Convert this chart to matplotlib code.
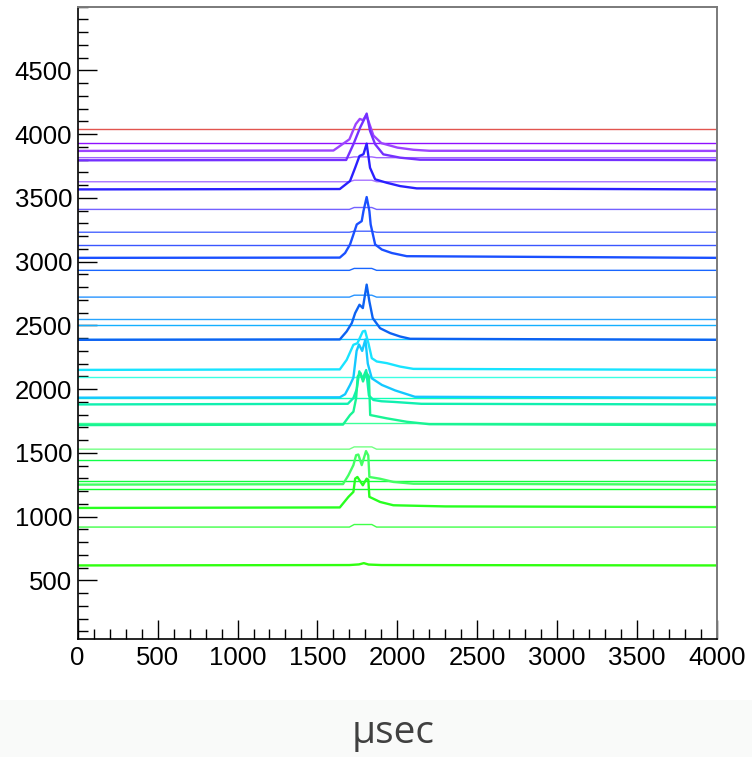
import matplotlib
matplotlib.use("Agg")
import matplotlib.pyplot as plt
from matplotlib.patches import Rectangle
from matplotlib.ticker import MultipleLocator

# ---- data ------------------------------------------------------------------
# flat traces: level, colour, height of the small bump near x~1780
flat_levels = [4039, 3932, 3816, 3627, 3410, 3231, 3127, 2932, 2722, 2549,
               2505, 2395, 2098, 1928, 1731, 1529, 1443, 1278, 1215, 918]
flat_colors = ["#e2554f", "#8f10ff", "#a064ff", "#a874ff", "#7462ff", "#4a66ff",
               "#3a56ff", "#1866ff", "#2894ff", "#28a4ff", "#14b0ff", "#10c8ff",
               "#3cffe4", "#10ffb4", "#3cff98", "#74ff84", "#10ff48", "#10ff3c",
               "#10ff28", "#40ff48"]
flat_bumps = [0, 0, 6, 12, 15, 8, 0, 15, 15, 0, 0, 0, 0, 0, 0, 18, 0, 0, 0, 20]
bump_x = [0, 1700, 1730, 1840, 1870, 4000]

# noisy traces with a pulse (x in usec, y in counts)
tr_a_x = [0, 1600, 1700, 1740, 1765, 1785, 1805, 1820, 1850, 1900, 2000, 2100, 2200, 4000]
tr_a_y = [3869, 3872, 3960, 4080, 4120, 4110, 4150, 4100, 3990, 3930, 3895, 3878, 3870, 3869]
tr_b_x = [0, 1680, 1725, 1767, 1798, 1808, 1829, 1861, 1912, 2017, 2142, 4000]
tr_b_y = [3795, 3798, 3921, 4052, 4131, 4162, 4026, 3921, 3842, 3816, 3800, 3797]
tr_c_x = [0, 1640, 1704, 1736, 1763, 1788, 1808, 1829, 1861, 1934, 2017, 2121, 4000]
tr_c_y = [3567, 3570, 3633, 3737, 3829, 3843, 3926, 3737, 3646, 3619, 3593, 3575, 3567]
tr_d_x = [0, 1640, 1673, 1704, 1725, 1746, 1777, 1788, 1808, 1825, 1833, 1861, 1903, 1965, 2059, 4000]
tr_d_y = [3030, 3032, 3068, 3135, 3213, 3292, 3318, 3397, 3507, 3397, 3292, 3135, 3095, 3068, 3043, 3030]
tr_e_x = [0, 1640, 1683, 1715, 1736, 1763, 1784, 1808, 1825, 1846, 1892, 1955, 2017, 2080, 4000]
tr_e_y = [2387, 2390, 2453, 2518, 2597, 2662, 2636, 2820, 2688, 2557, 2478, 2439, 2413, 2395, 2387]
tr_f_x = [0, 1640, 1683, 1725, 1750, 1784, 1798, 1819, 1840, 1871, 1934, 2017, 2100, 4000]
tr_f_y = [2151, 2155, 2230, 2348, 2360, 2453, 2458, 2360, 2243, 2217, 2204, 2177, 2159, 2151]
tr_g_x = [0, 1640, 1673, 1704, 1725, 1745, 1760, 1780, 1800, 1815, 1840, 1903, 1986, 2110, 4000]
tr_g_y = [1933, 1936, 1960, 2033, 2090, 2300, 2350, 2300, 2390, 2200, 2085, 2033, 1990, 1940, 1933]
tr_h_x = [0, 1690, 1725, 1746, 1762, 1782, 1805, 1822, 1850, 1900, 1976, 2150, 4000]
tr_h_y = [1880, 1885, 1930, 2000, 2140, 2080, 2150, 1950, 1915, 1905, 1900, 1885, 1880]
tr_i_x = [0, 1660, 1704, 1725, 1742, 1752, 1770, 1785, 1805, 1822, 1830, 1934, 2059, 2200, 4000]
tr_i_y = [1718, 1722, 1797, 1823, 1928, 2100, 2125, 2060, 2130, 2100, 1797, 1771, 1744, 1725, 1718]
tr_j_x = [0, 1660, 1694, 1725, 1742, 1756, 1777, 1804, 1818, 1825, 1892, 1975, 2100, 4000]
tr_j_y = [1251, 1255, 1325, 1404, 1482, 1487, 1404, 1514, 1480, 1311, 1297, 1272, 1258, 1251]
tr_k_x = [0, 1640, 1694, 1725, 1736, 1750, 1784, 1808, 1818, 1825, 1892, 1975, 2300, 4000]
tr_k_y = [1068, 1072, 1155, 1194, 1298, 1311, 1246, 1298, 1290, 1155, 1115, 1089, 1080, 1075]
tr_l_x = [0, 1700, 1760, 1790, 1820, 1900, 4000]
tr_l_y = [617, 620, 625, 635, 624, 620, 617]

pulse_traces = [
    (tr_a_x, tr_a_y, "#9c44ff"), (tr_b_x, tr_b_y, "#7430ff"),
    (tr_c_x, tr_c_y, "#2a20ff"), (tr_d_x, tr_d_y, "#1a50ff"),
    (tr_e_x, tr_e_y, "#0c62f2"), (tr_f_x, tr_f_y, "#18e4ff"),
    (tr_g_x, tr_g_y, "#14c8ff"), (tr_h_x, tr_h_y, "#10f0b0"),
    (tr_i_x, tr_i_y, "#18f494"), (tr_j_x, tr_j_y, "#44ff64"),
    (tr_k_x, tr_k_y, "#28ff20"), (tr_l_x, tr_l_y, "#30ff10"),
]

x_ticks = [0, 500, 1000, 1500, 2000, 2500, 3000, 3500, 4000]
y_ticks = [500, 1000, 1500, 2000, 2500, 3000, 3500, 4000, 4500]

# ---- figure -----------------------------------------------------------------
plt.rcParams["font.family"] = ["Liberation Sans", "DejaVu Sans"]
fig = plt.figure(figsize=(7.52, 7.57), dpi=100)
fig.patches.append(Rectangle((0, 0), 1, 0.075, transform=fig.transFigure,
                             facecolor="#f9faf9", edgecolor="none", zorder=0))
ax = fig.add_axes([0.1033, 0.1559, 0.8502, 0.8352])

for lvl, col, bump in zip(flat_levels, flat_colors, flat_bumps):
    by = [lvl, lvl, lvl + bump, lvl + bump, lvl, lvl]
    ax.plot(bump_x, by, color=col, lw=1.0, solid_joinstyle="miter")

for xs, ys, col in pulse_traces:
    ax.plot(xs, ys, color=col, lw=1.7)

ax.set_xlim(0, 4000)
ax.set_ylim(40, 5000)
ax.set_xticks(x_ticks)
ax.set_yticks(y_ticks)
ax.xaxis.set_minor_locator(MultipleLocator(100))
ax.yaxis.set_minor_locator(MultipleLocator(100))
ax.tick_params(which="both", direction="in", top=False, right=False, color="black")
ax.tick_params(which="major", length=13.5, width=1.0)
ax.tick_params(which="minor", length=7, width=1.0)
ax.tick_params(axis="y", labelsize=18.5, pad=4)
ax.tick_params(axis="x", labelsize=18.5, pad=5)

for side in ("left", "bottom"):
    ax.spines[side].set_color("black")
    ax.spines[side].set_linewidth(1.2)
for side in ("top", "right"):
    ax.spines[side].set_color("#7a7a7a")
    ax.spines[side].set_linewidth(1.4)

fig.text(0.523, 0.019, "\u00b5sec", fontsize=28, color="#404040",
         family=["Open Sans", "DejaVu Sans"], ha="center", va="baseline")

fig.savefig("out.png", dpi=100)
